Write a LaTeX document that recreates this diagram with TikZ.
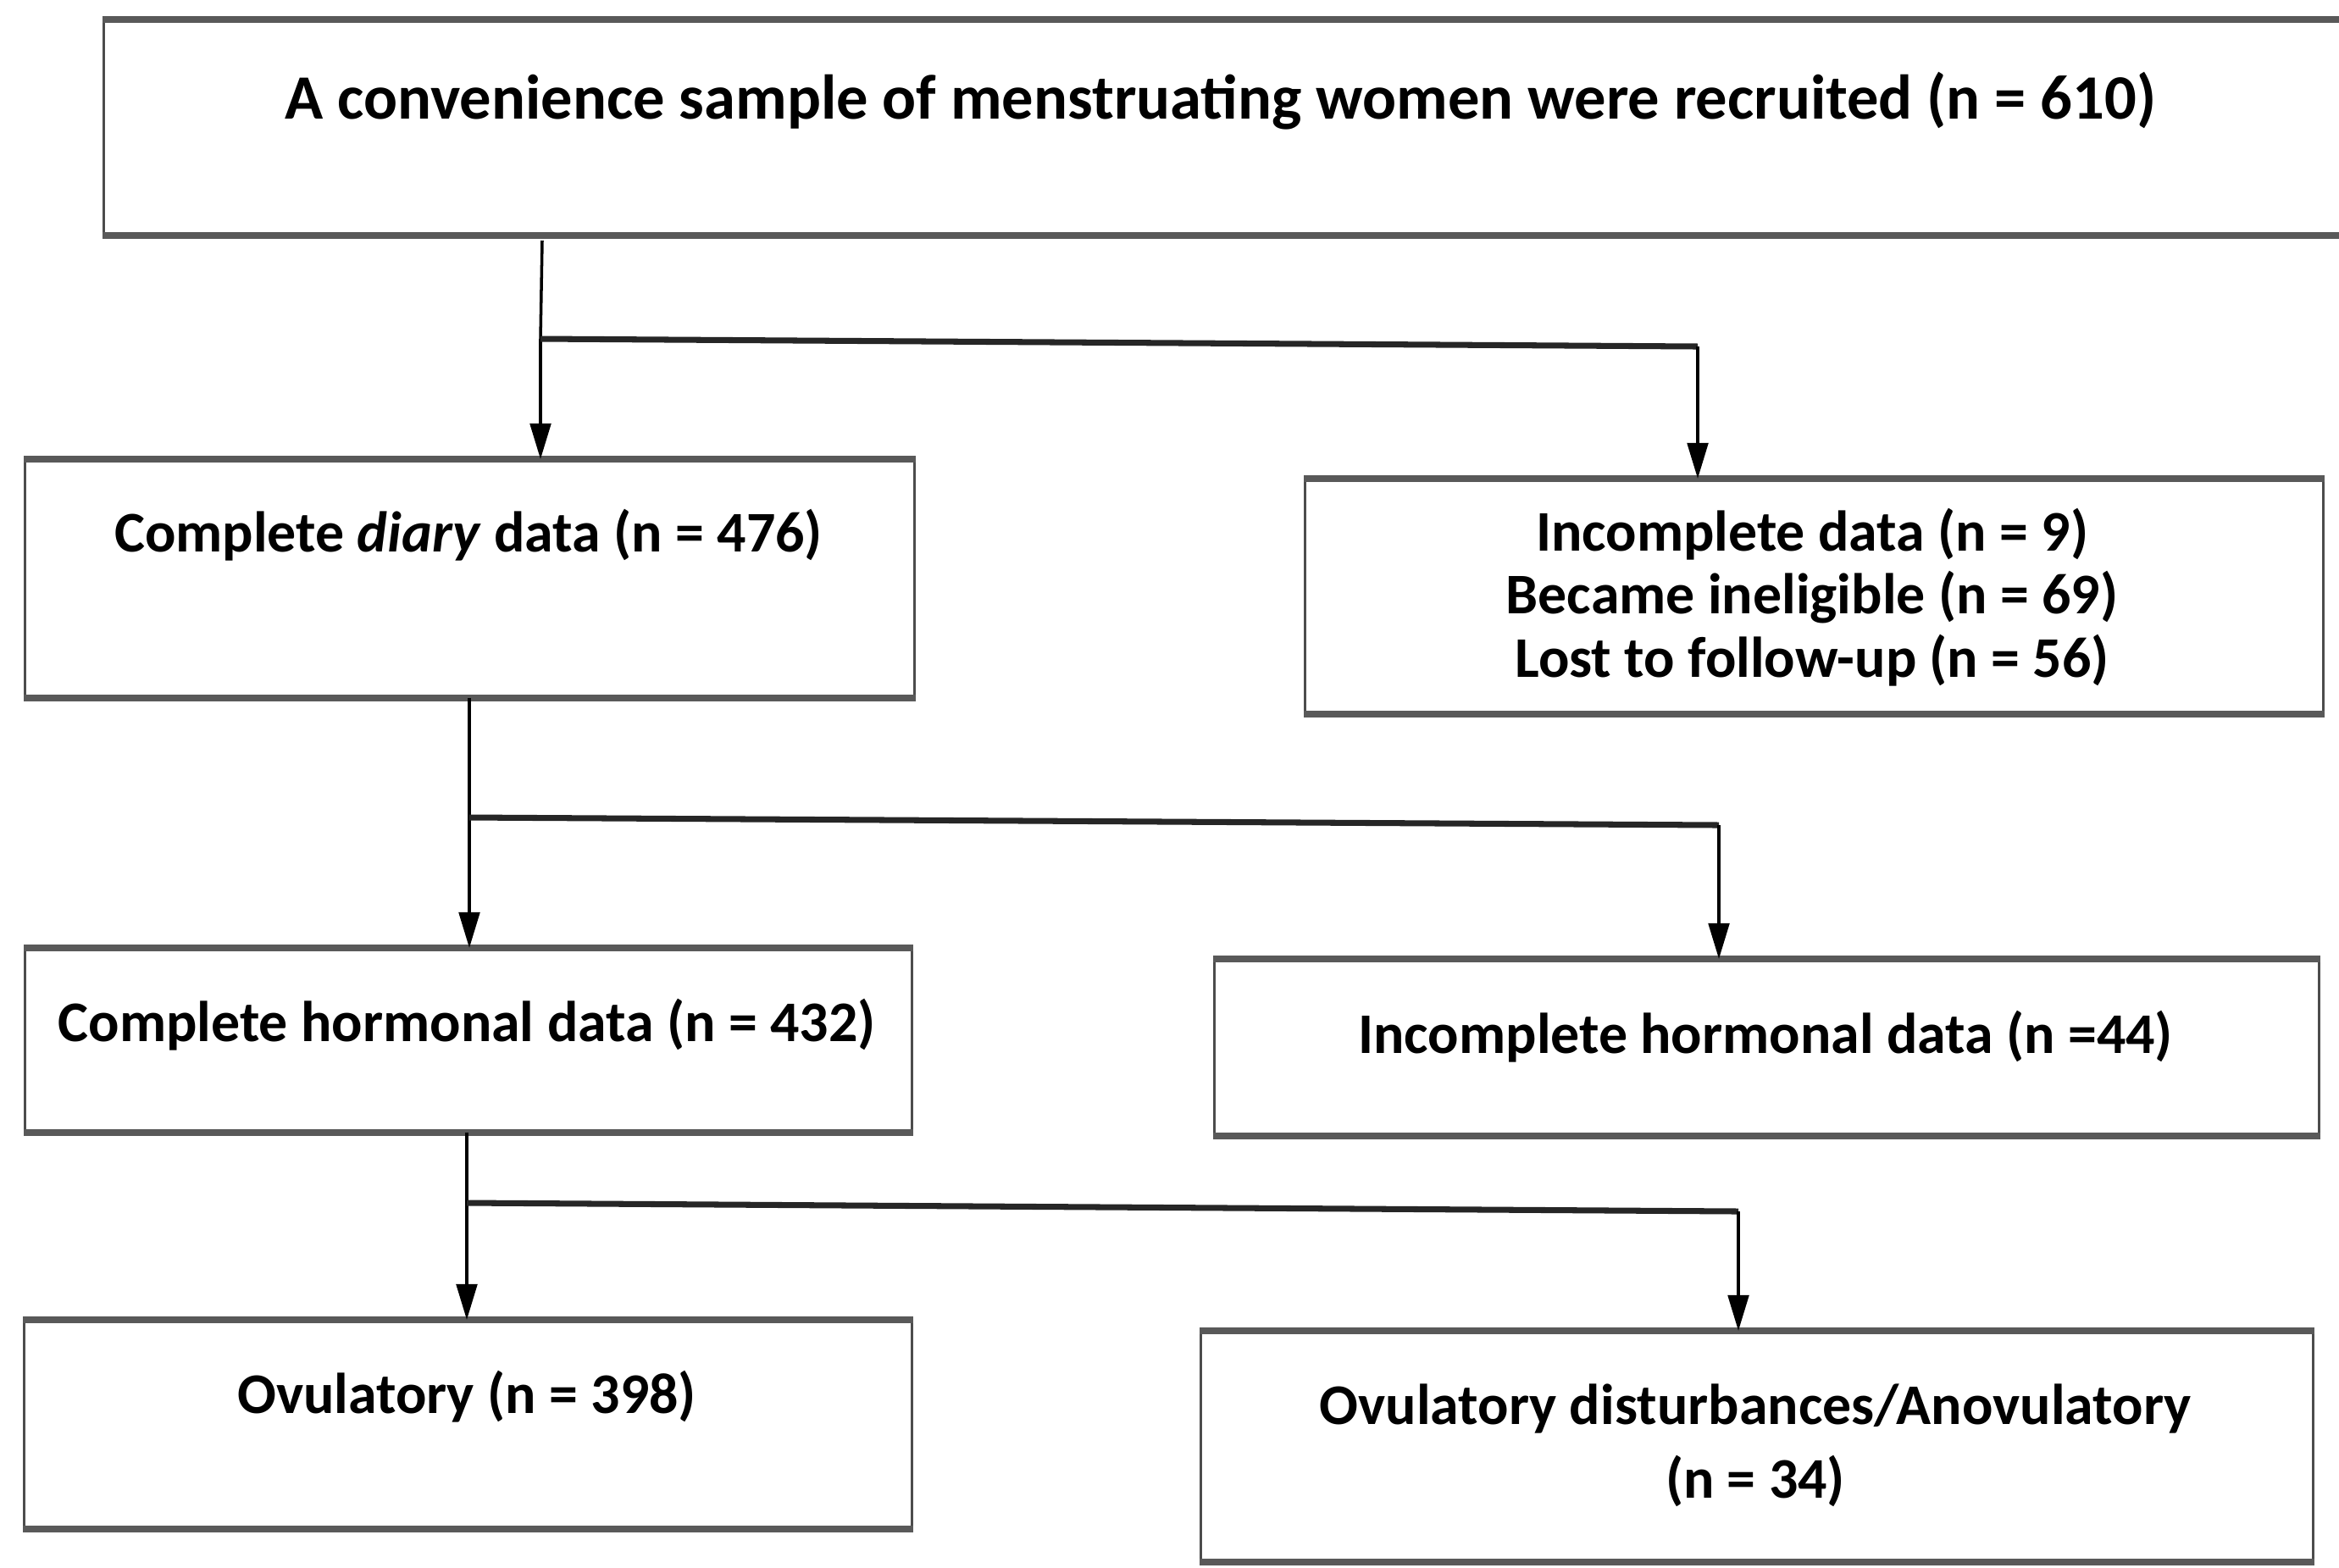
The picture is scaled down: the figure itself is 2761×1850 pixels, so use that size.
\documentclass[tikz,border=0pt]{standalone}
\usepackage{fontspec}
\setmainfont{Carlito}
\usetikzlibrary{arrows.meta}
\begin{document}
\begin{tikzpicture}[x=0.01cm,y=-0.01cm,
  box/.style={draw=black!70,line width=0.8pt,inner sep=0pt,anchor=north west},
  edge/.style={draw=black!65,line width=2.2pt},
  txt/.style={font=\fontsize{19.3}{23}\selectfont\bfseries,inner sep=0pt,anchor=center},
  bigtxt/.style={txt,font=\fontsize{21.2}{25}\selectfont\bfseries},
  conn/.style={draw=black,line width=1pt},
  arr/.style={conn,-{Triangle[length=12pt,width=7pt]}},
  branch/.style={draw=black!85,line width=2pt}]
\useasboundingbox (0,0) rectangle (2761,1850);
% boxes
\node[box,minimum width=2660*0.01cm,minimum height=252*0.01cm] (top) at (121,23) {};
\node[box,minimum width=1050*0.01cm,minimum height=279*0.01cm] (b2) at (28,542) {};
\node[box,minimum width=1202*0.01cm,minimum height=275*0.01cm] (b3) at (1539,565) {};
\node[box,minimum width=1047*0.01cm,minimum height=215*0.01cm] (b4) at (28,1119) {};
\node[box,minimum width=1304*0.01cm,minimum height=206*0.01cm] (b5) at (1432,1132) {};
\node[box,minimum width=1048*0.01cm,minimum height=244*0.01cm] (b6) at (27,1558) {};
\node[box,minimum width=1313*0.01cm,minimum height=270*0.01cm] (b7) at (1416,1571) {};
\foreach \b in {top,b2,b3,b4,b5,b6,b7}{
  \draw[edge] (\b.north west) -- (\b.north east);
  \draw[edge] (\b.south west) -- (\b.south east);
}
% texts
\node[bigtxt] (t1) at (1441,119) {A convenience sample of menstruating women were recruited (n = 610)};
\node[txt] (t2) at (553,632) {Complete \textit{diary} data (n = 476)};
\node[txt] (t3a) at (2139,631) {Incomplete data (n = 9)};
\node[txt] (t3b) at (2139,705) {Became ineligible (n = 69)};
\node[txt] (t3c) at (2139,780) {Lost to follow-up (n = 56)};
\node[txt] (t4) at (551,1210) {Complete hormonal data (n = 432)};
\node[txt] (t5) at (2084,1224) {Incomplete hormonal data (n =44)};
\node[txt] (t6) at (551,1649) {Ovulatory (n = 398)};
\node[txt] (t7a) at (2072,1663) {Ovulatory disturbances/Anovulatory};
\node[txt] (t7b) at (2072,1748) {(n = 34)};
% connectors
\coordinate (j1) at (638,400);
\coordinate (k1) at (2004,409);
\coordinate (s1) at (640,284);
\draw[conn] (s1) -- (j1);
\draw[arr] (j1) -- (j1 |- b2.north);
\draw[branch] (j1) -- (k1);
\draw[arr] (k1) -- (k1 |- b3.north);
\coordinate (j2) at (554,965);
\coordinate (k2) at (2029,974);
\draw[conn] (b2.south -| j2) -- (j2);
\draw[arr] (j2) -- (j2 |- b4.north);
\draw[branch] (j2) -- (k2);
\draw[arr] (k2) -- (k2 |- b5.north);
\coordinate (j3) at (551,1420);
\coordinate (k3) at (2052,1430);
\draw[conn] (b4.south -| j3) -- (j3);
\draw[arr] (j3) -- (j3 |- b6.north);
\draw[branch] (j3) -- (k3);
\draw[arr] (k3) -- (k3 |- b7.north);
\end{tikzpicture}
\end{document}
